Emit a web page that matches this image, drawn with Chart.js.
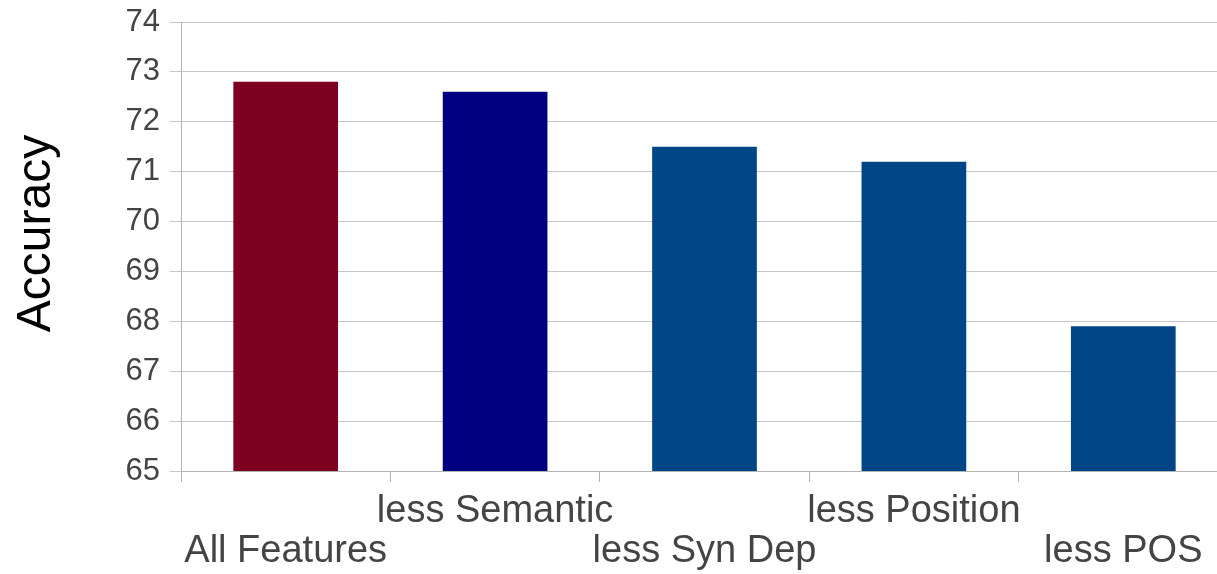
<!DOCTYPE html>
<html>
<head>
<meta charset="utf-8">
<script src="https://cdn.jsdelivr.net/npm/chart.js@4/dist/chart.umd.min.js"></script>
<style>
  html, body { margin: 0; padding: 0; background: #fff; overflow: hidden; }
  #wrap { position: relative; width: 1229px; height: 574px; }
</style>
</head>
<body>
<div id="wrap"><canvas id="c"></canvas></div>
<script>
// Feature-ablation results
const categories = ['All Features', 'less Semantic', 'less Syn Dep', 'less Position', 'less POS'];
const accuracy = [72.8, 72.6, 71.5, 71.2, 67.9];
const yTicks = [65, 66, 67, 68, 69, 70, 71, 72, 73, 74];
const yTitle = 'Accuracy';

const barColors = ['#7e0021', '#000080', '#004586', '#004586', '#004586'];
const FONT = '"Liberation Sans", Arial, sans-serif';

// Rotated y-axis title, placed a little above the plot's vertical centre
const yTitlePlugin = {
  id: 'yTitle',
  afterDraw(chart) {
    const ctx = chart.ctx;
    const area = chart.chartArea;
    ctx.save();
    ctx.translate(37, (area.top + area.bottom) / 2 - 13);
    ctx.rotate(-Math.PI / 2);
    ctx.font = '48px ' + FONT;
    ctx.fillStyle = '#000000';
    ctx.textAlign = 'center';
    ctx.textBaseline = 'middle';
    ctx.fillText(yTitle, 0, 0);
    ctx.restore();
  }
};

new Chart(document.getElementById('c'), {
  type: 'bar',
  data: {
    labels: categories,
    datasets: [{
      label: yTitle,
      data: accuracy,
      backgroundColor: barColors,
      borderWidth: 0,
      categoryPercentage: 0.5,
      barPercentage: 1.0
    }]
  },
  plugins: [yTitlePlugin],
  options: {
    responsive: true,
    maintainAspectRatio: false,
    animation: false,
    layout: { padding: { top: 22, right: 1, bottom: 0, left: 0 } },
    plugins: { legend: { display: false }, tooltip: { enabled: false } },
    scales: {
      x: {
        grid: {
          display: true,
          drawOnChartArea: false,
          drawTicks: true,
          tickLength: 11,
          offset: true,
          color: '#b3b3b3'
        },
        border: { display: true, color: '#b3b3b3' },
        ticks: {
          autoSkip: false,
          maxRotation: 0,
          minRotation: 0,
          padding: 10,
          color: '#444444',
          font: { family: FONT, size: 38, lineHeight: 40 / 38 },
          // alternate labels between two rows so they do not collide
          callback: function (value, index) {
            const lbl = this.getLabelForValue(value);
            return index % 2 === 0 ? ['', lbl] : [lbl, ''];
          }
        },
        afterFit: function (scale) {
          scale.height = 103;
          scale.paddingLeft = 0;
          scale.paddingRight = 0;
        }
      },
      y: {
        min: yTicks[0],
        max: yTicks[yTicks.length - 1],
        afterBuildTicks: function (scale) {
          scale.ticks = yTicks.map(v => ({ value: v }));
        },
        grid: {
          color: '#c6c6c6',
          tickLength: 11,
          drawTicks: true
        },
        border: { display: true, color: '#b3b3b3' },
        ticks: {
          padding: 10,
          color: '#444444',
          font: { family: FONT, size: 31 }
        },
        afterFit: function (scale) {
          scale.width = 181;
          scale.paddingTop = 0;
          scale.paddingBottom = 0;
        }
      }
    }
  }
});
</script>
</body>
</html>
